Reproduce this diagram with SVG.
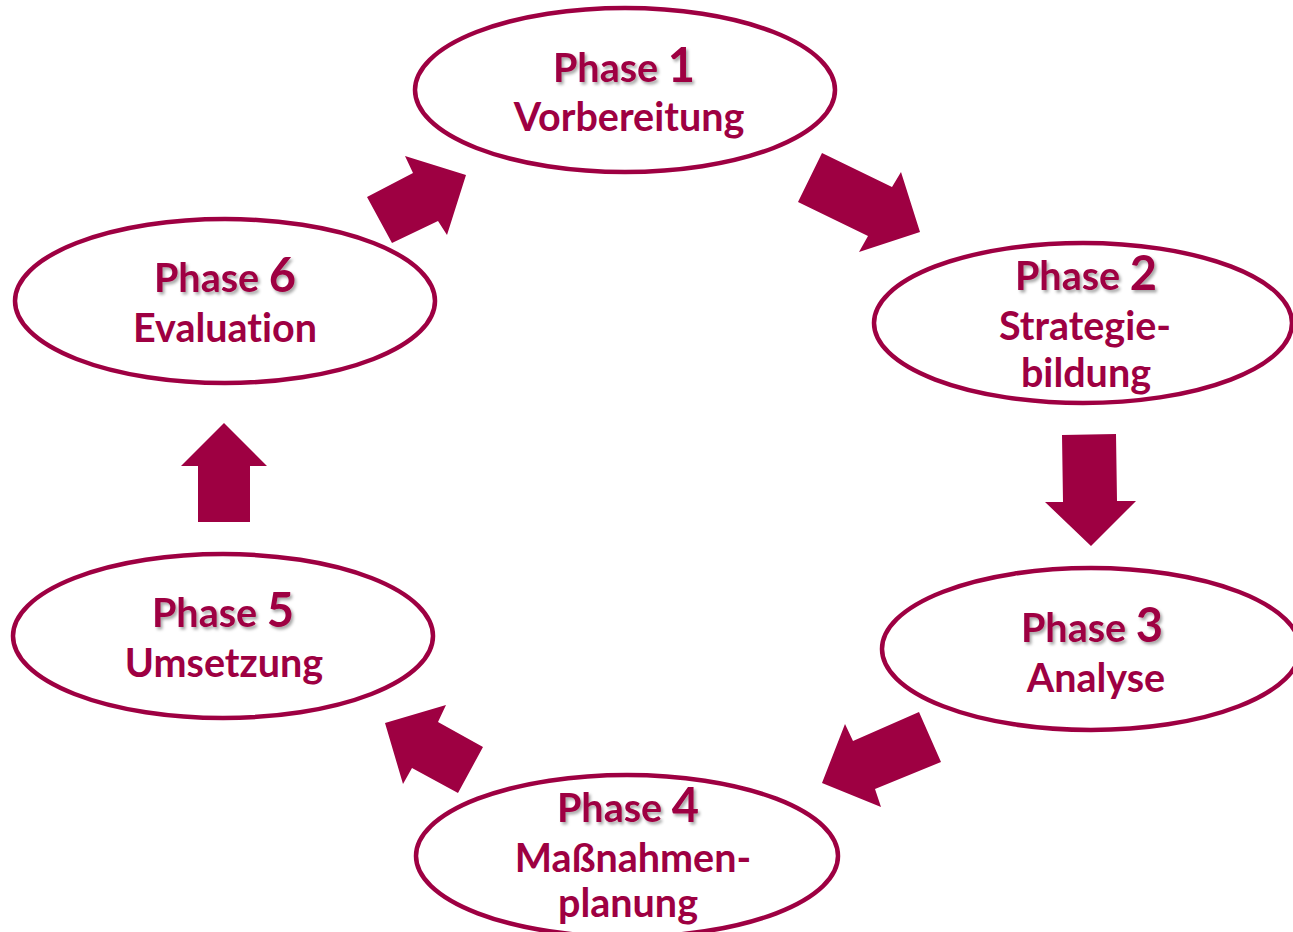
<svg xmlns="http://www.w3.org/2000/svg" width="1293" height="932" viewBox="0 0 1293 932">
<defs>
<filter id="sh" x="-10%" y="-30%" width="130%" height="170%">
<feDropShadow dx="2" dy="2.5" stdDeviation="1.5" flood-color="#000" flood-opacity="0.35"/>
</filter>
</defs>
<style>
.node{fill:#fff;stroke:#9E0042;stroke-width:4.5}
.arrow{fill:#9E0042}
.t{font-family:Lato,"Open Sans","Liberation Sans",sans-serif;font-weight:bold;fill:#9E0042;text-anchor:middle;font-size:39.5px;font-variant-ligatures:none}
.num{font-size:47px}
.ph{filter:url(#sh)}
</style>
<rect width="1293" height="932" fill="#fff"/>
<g id="node1">
<ellipse class="node" cx="625" cy="90" rx="210" ry="82"/>
<text class="t ph" x="624" y="82">Phase <tspan class="num">1</tspan></text>
<text class="t" x="629" y="131">Vorbereitung</text>
</g>
<g id="node2">
<ellipse class="node" cx="1083" cy="323" rx="209" ry="80"/>
<text class="t ph" x="1086" y="290">Phase <tspan class="num">2</tspan></text>
<text class="t" x="1085" y="340">Strategie-</text>
<text class="t" x="1086" y="387">bildung</text>
</g>
<g id="node3">
<ellipse class="node" cx="1091" cy="649" rx="209" ry="81"/>
<text class="t ph" x="1092" y="642">Phase <tspan class="num">3</tspan></text>
<text class="t" x="1096" y="692">Analyse</text>
</g>
<g id="node4">
<ellipse class="node" cx="627" cy="856" rx="211" ry="81"/>
<text class="t ph" x="628" y="822">Phase <tspan class="num">4</tspan></text>
<text class="t" x="633" y="872">Maßnahmen-</text>
<text class="t" x="628" y="917">planung</text>
</g>
<g id="node5">
<ellipse class="node" cx="223" cy="636" rx="210" ry="82"/>
<text class="t ph" x="223" y="627">Phase <tspan class="num">5</tspan></text>
<text class="t" x="224" y="677">Umsetzung</text>
</g>
<g id="node6">
<ellipse class="node" cx="225" cy="301" rx="210" ry="82"/>
<text class="t ph" x="225" y="292">Phase <tspan class="num">6</tspan></text>
<text class="t" x="225" y="342">Evaluation</text>
</g>
<g id="connectors">
<polygon class="arrow" points="367,197 413,173 405,156 466,175 447,235 438,221 392,243"/>
<polygon class="arrow" points="822,153 892,187 901,172 920,232 859,252 868,236 798,202"/>
<polygon class="arrow" points="1062,435 1116,434 1117,501 1136,501 1091,546 1045,502 1063,502"/>
<polygon class="arrow" points="919,712 941,762 875,789 881,807 822,783 845,724 853,741"/>
<polygon class="arrow" points="458,793 483,747 438,722 446,705 385,723 403,784 412,768"/>
<polygon class="arrow" points="198,522 250,522 250,466 267,466 224,423 181,466 198,466"/>
</g>
</svg>
